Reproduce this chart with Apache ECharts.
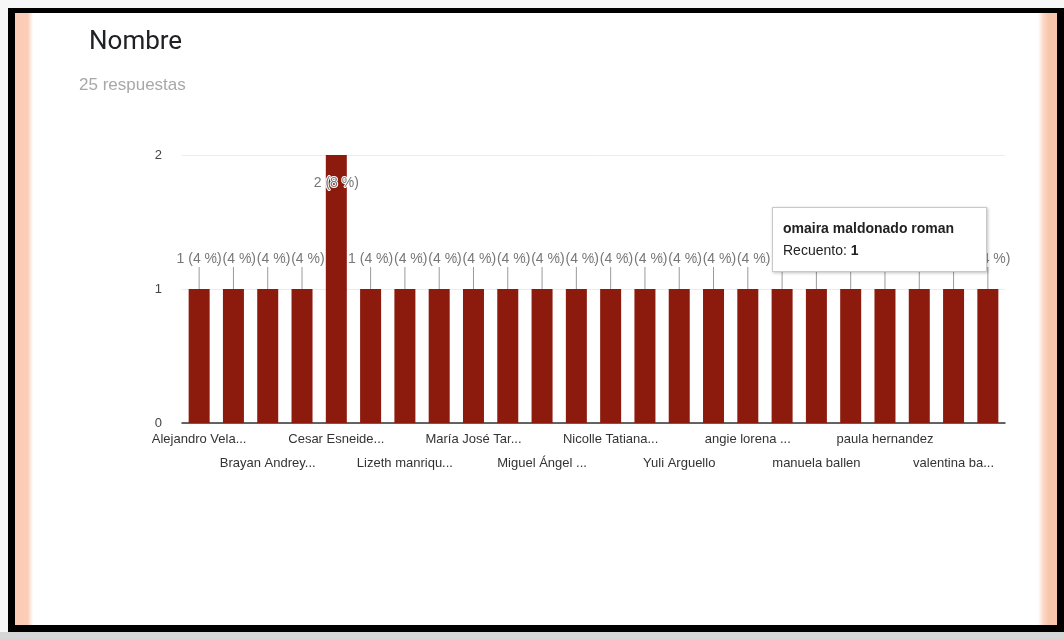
<!DOCTYPE html>
<html>
<head>
<meta charset="utf-8">
<script src="https://cdn.jsdelivr.net/npm/echarts@6/dist/echarts.min.js"></script>
<style>
  html, body { margin: 0; padding: 0; width: 1064px; height: 639px; overflow: hidden; background: #f7f7f7; }
  #frame { position: absolute; left: 8px; top: 8px; width: 1056px; height: 624px; background: #000; }
  #inner { position: absolute; left: 15px; top: 13px; width: 1042px; height: 612px; background: #fff; }
  #pinkL { position: absolute; left: 15px; top: 13px; width: 18px; height: 612px; background: linear-gradient(to right, #fbcdb6 0%, #fbcdb6 70%, #ffffff 100%); }
  #pinkR { position: absolute; left: 1038px; top: 13px; width: 19px; height: 612px; background: linear-gradient(to right, #ffffff 0%, #fbd6c4 30%, #f8c6ad 55%, #f8c6ad 100%); }
  #bottomBar { position: absolute; left: 0; top: 632px; width: 1064px; height: 7px; background: #d6d6d6; }
  #chart { position: absolute; left: 0; top: 0; width: 1064px; height: 639px; }
</style>
</head>
<body>
<div id="frame"></div>
<div id="inner"></div>
<div id="pinkL"></div>
<div id="pinkR"></div>
<div id="bottomBar"></div>
<div id="chart"></div>
<script>
// ---- data ----
const titleText = "Nombre";
const subtitleText = "25 respuestas";
const names = [
  "Alejandro Vela...", "Andrés Felipe...", "Brayan Andrey...", "Camila Rojas",
  "Cesar Esneide...", "Daniela Gómez", "Lizeth manriqu...", "Luisa Fernanda...",
  "María José Tar...", "Mateo Ruiz", "Miguel Ángel ...", "Natalia Pérez",
  "Nicolle Tatiana...", "Sofía Herrera", "Yuli Arguello", "Zharick López",
  "angie lorena ...", "karen daniela", "manuela ballen", "omaira maldonado roman",
  "paula hernandez", "sara gutierrez", "valentina ba...", "yesica moreno"
];
const counts = [1, 1, 1, 1, 2, 1, 1, 1, 1, 1, 1, 1, 1, 1, 1, 1, 1, 1, 1, 1, 1, 1, 1, 1];
const yTicks = [0, 1, 2];
const tooltipIndex = 19;
const tooltipCountLabel = "Recuento";

// ---- build ----
const total = counts.reduce((a, b) => a + b, 0);
const N = names.length;
// reversed order + inverse axis so that left labels are painted over right ones
const revNames = names.slice().reverse();
const revCounts = counts.slice().reverse();
const maxVal = Math.max(...counts);

const chart = echarts.init(document.getElementById('chart'), null, { renderer: 'canvas' });
const barColor = '#8c1a0d';

const seriesData = revCounts.map((v, i) => {
  const item = { value: v, name: revNames[i] };
  if (v === maxVal) {
    item.label = { position: 'insideTop', distance: 21 };
    item.labelLine = { show: false };
  }
  return item;
});

const axisLabelBase = {
  fontFamily: 'Arial, sans-serif',
  fontSize: 13,
  color: '#333',
  hideOverlap: false
};

chart.setOption({
  animation: false,
  title: [{
    text: titleText,
    left: 84,
    top: 24,
    textStyle: { fontFamily: 'Roboto, Arial, sans-serif', fontSize: 26, fontWeight: 'normal', color: '#202124' }
  }, {
    text: subtitleText,
    left: 74,
    top: 72,
    textStyle: { fontFamily: 'Arial, sans-serif', fontSize: 17, fontWeight: 'normal', color: '#a8a8a8' }
  }],
  tooltip: {
    trigger: 'item',
    triggerOn: 'none',
    alwaysShowContent: true,
    transitionDuration: 0,
    position: [772, 207],
    backgroundColor: '#fff',
    borderColor: '#c8c8c8',
    borderWidth: 1,
    padding: [9, 10, 10, 10],
    extraCssText: 'box-shadow: 1px 1px 3px rgba(0,0,0,0.25); border-radius: 0; width: 193px;',
    textStyle: { fontFamily: 'Arial, sans-serif', fontSize: 14, color: '#222' },
    formatter: function (p) {
      return '<div style="font-weight:bold;line-height:22px;">' + p.name + '</div>' +
             '<div style="line-height:22px;">' + tooltipCountLabel + ': <b>' + p.value + '</b></div>';
    }
  },
  grid: { left: 182, right: 59, top: 155, bottom: 216, containLabel: false },
  xAxis: [{
    type: 'category',
    inverse: true,
    position: 'bottom',
    data: revNames,
    axisLine: { lineStyle: { color: '#333', width: 1.5 } },
    axisTick: { show: false },
    axisLabel: Object.assign({}, axisLabelBase, {
      interval: function (index) { return (N - 1 - index) % 4 === 0; },
      margin: 10
    })
  }, {
    type: 'category',
    inverse: true,
    position: 'bottom',
    data: revNames,
    axisLine: { show: false },
    axisTick: { show: false },
    splitLine: { show: false },
    axisLabel: Object.assign({}, axisLabelBase, {
      interval: function (index) { return (N - 1 - index) % 4 === 2; },
      margin: 34
    })
  }],
  yAxis: {
    type: 'value',
    min: 0,
    max: 2,
    interval: 1,
    axisLine: { show: false },
    axisTick: { show: false },
    splitLine: { lineStyle: { color: '#ececec' } },
    axisLabel: {
      margin: 20,
      fontFamily: 'Arial, sans-serif',
      fontSize: 13,
      color: '#444',
      formatter: function (v) { return yTicks.indexOf(v) >= 0 ? String(v) : ''; }
    }
  },
  series: [{
    type: 'bar',
    xAxisIndex: 0,
    data: seriesData,
    barWidth: 21,
    itemStyle: { color: barColor },
    label: {
      show: true,
      position: 'top',
      distance: 5,
      fontFamily: 'Arial, sans-serif',
      fontSize: 14,
      color: '#777',
      textBorderColor: '#fff',
      textBorderWidth: 2,
      formatter: function (p) {
        return p.value + ' (' + Math.round(p.value / total * 100) + ' %)';
      }
    },
    labelLine: { show: true, lineStyle: { color: '#9a9a9a', width: 1 } },
    labelLayout: function (params) {
      if (revCounts[params.dataIndex] === maxVal) return {};
      return { dy: -18 };
    }
  }]
});

chart.dispatchAction({ type: 'showTip', seriesIndex: 0, dataIndex: N - 1 - tooltipIndex });
</script>
</body>
</html>
